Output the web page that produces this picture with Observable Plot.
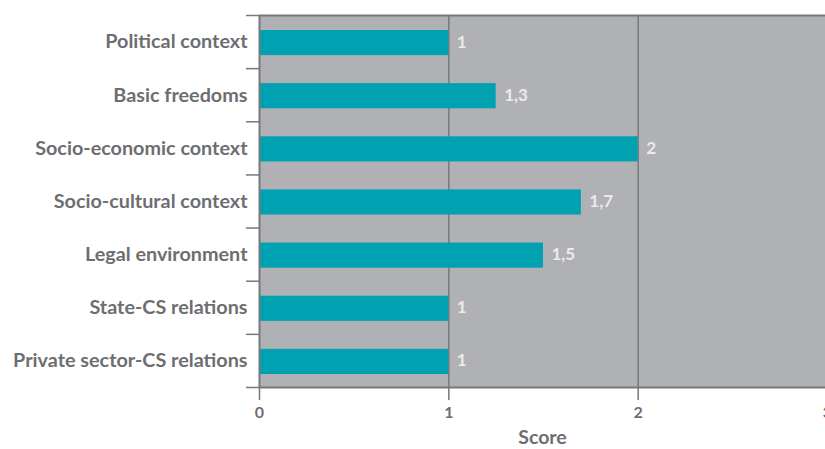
<!DOCTYPE html>
<html>
<head>
<meta charset="utf-8">
<script src="https://cdn.jsdelivr.net/npm/d3@7"></script>
<script src="https://cdn.jsdelivr.net/npm/@observablehq/plot@0.6"></script>
<style>
  html, body { margin: 0; padding: 0; background: #fff; }
  svg { display: block; }
</style>
</head>
<body>
<div id="chart"></div>
<script>
const categories = [
  "Political context",
  "Basic freedoms",
  "Socio-economic context",
  "Socio-cultural context",
  "Legal environment",
  "State-CS relations",
  "Private sector-CS relations"
];
const scores = [1, 1.25, 2, 1.7, 1.5, 1, 1];
const scoreLabels = ["1", "1,3", "2", "1,7", "1,5", "1", "1"];
const xTicks = [0, 1, 2, 3];
const xTickLabels = ["0", "1", "2", "3"];

const data = categories.map((c, i) => ({category: c, index: i, score: scores[i], label: scoreLabels[i]}));

const lineColor = "#77787b";
const textColor = "#6d6e71";

const chart = Plot.plot({
  width: 825,
  height: 449,
  marginLeft: 259,
  marginRight: 0,
  marginTop: 15,
  marginBottom: 62,
  style: {fontFamily: "Lato, 'Open Sans', sans-serif", background: "#fff"},
  x: {domain: [0, 3], range: [259, 827]},
  y: {domain: [0, categories.length], reverse: true},
  marks: [
    Plot.frame({fill: "#b0b1b5", stroke: null}),
    Plot.gridX([1, 2], {stroke: lineColor, strokeOpacity: 1, strokeWidth: 1.5}),
    Plot.rectX(data, {x1: 0, x2: "score", y1: "index", y2: d => d.index + 1, insetTop: 15, insetBottom: 13, fill: "#00a1b1"}),
    Plot.text(data, {x: "score", y: d => d.index + 0.5, text: "label", dx: 8, textAnchor: "start", fill: "#ebebeb", fontSize: 17, fontWeight: "bold", fontFamily: "Lato, sans-serif"}),
    Plot.ruleY([0], {stroke: lineColor, strokeWidth: 2}),
    Plot.ruleY([categories.length], {stroke: lineColor, strokeWidth: 2}),
    Plot.ruleX([0], {stroke: lineColor, strokeWidth: 2}),
    Plot.axisY({ticks: d3.range(0, categories.length + 1), tickFormat: () => "", tickSize: 13, stroke: lineColor, strokeWidth: 1.5, label: null}),
    Plot.axisY({ticks: d3.range(0, categories.length).map(i => i + 0.5), tickFormat: v => categories[Math.floor(v)], tickSize: 0, tickPadding: 12, fontSize: 19.8, fontWeight: "bold", fill: textColor, label: null}),
    Plot.axisX({ticks: xTicks, tickFormat: (d, i) => xTickLabels[i], tickSize: 13, tickPadding: 6, stroke: lineColor, strokeWidth: 1.5, fontSize: 16, fontWeight: "bold", fill: textColor, label: null}),
    Plot.axisX({ticks: [], label: "Score", labelAnchor: "center", labelArrow: "none", labelOffset: 56, fontSize: 19.5, fontWeight: "bold", fill: textColor})
  ]
});
document.getElementById("chart").appendChild(chart);
</script>
</body>
</html>
